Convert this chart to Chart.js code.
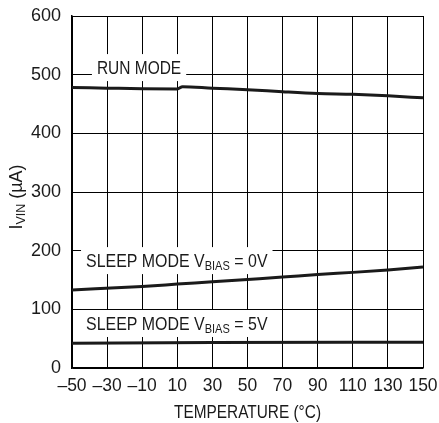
<!DOCTYPE html>
<html>
<head>
<meta charset="utf-8">
<script src="https://cdn.jsdelivr.net/npm/chart.js@4"></script>
<style>
  html, body { margin: 0; padding: 0; background: #fff; }
  #wrap { width: 439px; height: 423px; }
</style>
</head>
<body>
<div id="wrap"><canvas id="myChart" width="439" height="423"></canvas></div>
<script>
// === DATA ===
const runTemp = [-50, -30, -10, 10, 13, 30, 50, 70, 90, 110, 130, 150];
const runCurrent = [478, 477, 476, 475.5, 479.5, 477, 474.5, 471, 468, 466.5, 464, 460.5];

const sleep0Temp = [-50, -10, 10, 30, 50, 70, 90, 110, 130, 150];
const sleep0Current = [133, 139, 143, 147, 151, 155, 159.5, 163, 167, 172];

const sleep5Temp = [-50, 30, 150];
const sleep5Current = [42, 43.5, 44];

const xTicks = [-50, -30, -10, 10, 30, 50, 70, 90, 110, 130, 150];
const yTicks = [0, 100, 200, 300, 400, 500, 600];

const FONT = '"Liberation Sans", Arial, sans-serif';
const INK = '#1a1a1a';
const SQUEEZE = 0.885; // huruf dibuat agak sempit seperti font condensed

// gabung temp + nilai jadi titik {x, y}
function toPoints(xs, ys) {
  return xs.map((x, i) => ({ x: x, y: ys[i] }));
}

// label di dalam plot, posisi dalam koordinat data
const curveLabels = [
  { parts: [{ t: 'RUN MODE' }], x: -35.8, y: 501, sx: 0.86 },
  { parts: [{ t: 'SLEEP MODE V' }, { t: 'BIAS', sub: true }, { t: ' = 0V' }], x: -42, y: 172, sx: SQUEEZE },
  { parts: [{ t: 'SLEEP MODE V' }, { t: 'BIAS', sub: true }, { t: ' = 5V' }], x: -42, y: 64.8, sx: SQUEEZE },
];

function setFont(ctx, sub) {
  ctx.font = (sub ? '12.5px ' : '18px ') + FONT;
}

function richWidth(ctx, parts) {
  let w = 0;
  parts.forEach(p => { setFont(ctx, p.sub); w += ctx.measureText(p.t).width; });
  return w;
}

function drawRich(ctx, parts, x, y, sx) {
  ctx.save();
  ctx.translate(x, y);
  ctx.scale(sx, 1);
  ctx.textBaseline = 'alphabetic';
  ctx.textAlign = 'left';
  let cx = 0;
  parts.forEach(p => {
    setFont(ctx, p.sub);
    ctx.fillText(p.t, cx, p.sub ? 3 : 0);
    cx += ctx.measureText(p.t).width;
  });
  ctx.restore();
}

const labelPlugin = {
  id: 'curveLabels',
  beforeDatasetsDraw(chart) {
    const ctx = chart.ctx;
    const xs = chart.scales.x, ys = chart.scales.y;
    ctx.save();
    curveLabels.forEach(l => {
      const px = xs.getPixelForValue(l.x);
      const py = ys.getPixelForValue(l.y);
      const w = richWidth(ctx, l.parts) * l.sx;
      ctx.fillStyle = '#fff';
      ctx.fillRect(px - 5, py - 20, w + 10, 27);
      ctx.fillStyle = INK;
      drawRich(ctx, l.parts, px, py, l.sx);
    });
    ctx.restore();
  },
  afterDraw(chart) {
    const ctx = chart.ctx;
    const area = chart.chartArea;
    ctx.save();
    // judul sumbu Y: I_VIN (µA)
    const parts = [{ t: 'I' }, { t: 'VIN', sub: true }, { t: ' (\u00b5A)' }];
    const w = richWidth(ctx, parts);
    ctx.translate(22, 197);
    ctx.rotate(-Math.PI / 2);
    ctx.fillStyle = INK;
    drawRich(ctx, parts, -w / 2, 0, 1);
    ctx.restore();

    // judul sumbu X
    ctx.save();
    ctx.fillStyle = INK;
    ctx.translate((area.left + area.right) / 2, 418);
    ctx.scale(0.88, 1);
    ctx.font = '17.5px ' + FONT;
    ctx.textAlign = 'center';
    ctx.textBaseline = 'alphabetic';
    ctx.fillText('TEMPERATURE (\u00b0C)', 0, 0);
    ctx.restore();
  }
};

const lineStyle = {
  borderColor: INK,
  borderWidth: 3,
  pointRadius: 0,
  fill: false,
  cubicInterpolationMode: 'monotone',
};

new Chart(document.getElementById('myChart'), {
  type: 'line',
  data: {
    datasets: [
      Object.assign({ label: 'RUN MODE', data: toPoints(runTemp, runCurrent) }, lineStyle),
      Object.assign({ label: 'SLEEP MODE VBIAS = 0V', data: toPoints(sleep0Temp, sleep0Current) }, lineStyle),
      Object.assign({ label: 'SLEEP MODE VBIAS = 5V', data: toPoints(sleep5Temp, sleep5Current) }, lineStyle),
    ],
  },
  options: {
    responsive: false,
    animation: false,
    devicePixelRatio: 1,
    layout: { padding: { top: 16, right: 16, left: 0, bottom: 0 } },
    plugins: {
      legend: { display: false },
      tooltip: { enabled: false },
    },
    scales: {
      x: {
        type: 'linear',
        min: -50,
        max: 150,
        afterBuildTicks: s => { s.ticks = xTicks.map(v => ({ value: v })); },
        afterFit: s => { s.height = 55; s.paddingLeft = 0; s.paddingRight = 0; },
        ticks: {
          color: INK,
          font: { family: FONT, size: 17.5 },
          padding: 8,
          maxRotation: 0,
          autoSkip: false,
          callback: v => (v < 0 ? '\u2013' + Math.abs(v) : String(v)),
        },
        grid: { color: '#000', lineWidth: 1, drawTicks: false },
        border: { color: '#000', width: 1.5 },
      },
      y: {
        min: 0,
        max: 600,
        afterBuildTicks: s => { s.ticks = yTicks.map(v => ({ value: v })); },
        afterFit: s => { s.width = 72; s.paddingTop = 0; s.paddingBottom = 0; },
        ticks: {
          color: INK,
          font: { family: FONT, size: 18 },
          padding: 11,
          autoSkip: false,
        },
        grid: { color: '#000', lineWidth: 1, drawTicks: false },
        border: { color: '#000', width: 1.5 },
      },
    },
  },
  plugins: [labelPlugin],
});
</script>
</body>
</html>
